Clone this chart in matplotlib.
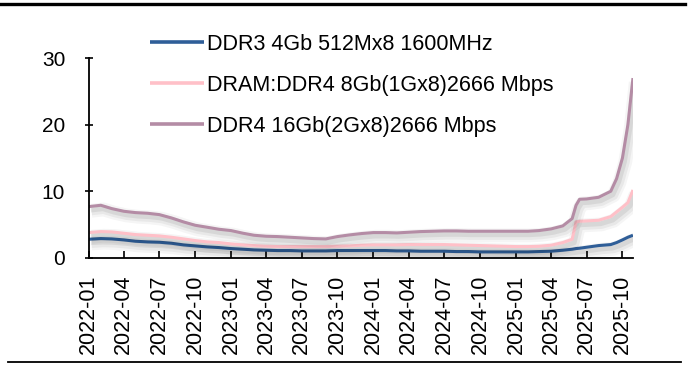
import matplotlib
matplotlib.use("Agg")
import matplotlib.pyplot as plt
import matplotlib.dates as mdates
import matplotlib.patheffects as pe
import pandas as pd

plt.rcParams['font.family'] = ['Liberation Sans', 'DejaVu Sans']

# monthly spot prices (USD), denser points around the 2025 spike
dates = ['2022-01-01', '2022-02-01', '2022-03-01', '2022-04-01', '2022-05-01', '2022-06-01',
         '2022-07-01', '2022-08-01', '2022-09-01', '2022-10-01', '2022-11-01', '2022-12-01',
         '2023-01-01', '2023-02-01', '2023-03-01', '2023-04-01', '2023-05-01', '2023-06-01',
         '2023-07-01', '2023-08-01', '2023-09-01', '2023-10-01', '2023-11-01', '2023-12-01',
         '2024-01-01', '2024-02-01', '2024-03-01', '2024-04-01', '2024-05-01', '2024-06-01',
         '2024-07-01', '2024-08-01', '2024-09-01', '2024-10-01', '2024-11-01', '2024-12-01',
         '2025-01-01', '2025-02-01', '2025-03-01', '2025-04-01', '2025-05-01',
         '2025-05-25', '2025-06-04', '2025-06-13', '2025-07-01', '2025-08-01', '2025-09-01',
         '2025-09-16', '2025-10-01', '2025-10-15', '2025-10-28']

ddr3_4gb = [2.8, 2.9, 2.85, 2.7, 2.5, 2.4, 2.35, 2.2, 1.95, 1.8, 1.65, 1.55,
            1.4, 1.3, 1.2, 1.15, 1.1, 1.1, 1.05, 1.05, 1.05, 1.1, 1.1, 1.1,
            1.1, 1.1, 1.05, 1.05, 1.0, 1.0, 1.0, 0.95, 0.95, 0.9, 0.9, 0.9,
            0.9, 0.9, 0.95, 1.0, 1.15,
            1.3, 1.4, 1.45, 1.6, 1.85, 2.0, 2.3, 2.7, 3.1, 3.4]

ddr4_8gb = [3.8, 3.95, 3.9, 3.7, 3.5, 3.4, 3.3, 3.1, 2.85, 2.6, 2.4, 2.3,
            2.1, 1.95, 1.85, 1.75, 1.7, 1.7, 1.7, 1.7, 1.7, 1.75, 1.8, 1.9,
            1.95, 1.95, 1.95, 2.0, 2.0, 2.0, 2.0, 1.95, 1.9, 1.85, 1.8, 1.75,
            1.7, 1.7, 1.75, 1.9, 2.3,
            2.8, 5.4, 5.5, 5.55, 5.65, 6.2, 6.9, 7.6, 8.3, 10.2]

ddr4_16gb = [7.7, 7.9, 7.4, 7.0, 6.8, 6.7, 6.5, 6.0, 5.4, 4.9, 4.6, 4.3,
             4.1, 3.7, 3.4, 3.25, 3.2, 3.1, 3.0, 2.9, 2.85, 3.2, 3.45, 3.65,
             3.8, 3.8, 3.75, 3.85, 3.95, 4.0, 4.05, 4.05, 4.0, 4.0, 4.0, 4.0,
             4.0, 4.0, 4.1, 4.35, 4.8,
             5.9, 7.9, 8.8, 8.85, 9.1, 10.0, 11.9, 15.0, 20.0, 27.0]

labels = ['DDR3 4Gb 512Mx8 1600MHz',
          'DRAM:DDR4 8Gb(1Gx8)2666 Mbps',
          'DDR4 16Gb(2Gx8)2666 Mbps']
colors = ['#2F5E98', '#FFC0C8', '#B48CA5']

x = pd.to_datetime(dates)

fig = plt.figure(figsize=(6.88, 3.70), dpi=100)
ax = fig.add_axes([0.129, 0.303, 0.791, 0.54])

# soft drop shadow under each line
shadow = [pe.SimpleLineShadow(offset=(2, -3), shadow_color='k', alpha=0.04, linewidth=10),
          pe.SimpleLineShadow(offset=(2, -3), shadow_color='k', alpha=0.05, linewidth=6.5),
          pe.SimpleLineShadow(offset=(1.5, -2.5), shadow_color='k', alpha=0.07, linewidth=3.5),
          pe.Normal()]

for y, c, lab in zip([ddr3_4gb, ddr4_8gb, ddr4_16gb], colors, labels):
    ax.plot(x, y, color=c, lw=2.2, label=lab, path_effects=shadow,
            solid_capstyle='butt')

ax.set_ylim(0, 30)
ax.set_yticks([0, 10, 20, 30])
ax.set_xlim(x[0], x[-1])
ax.xaxis.set_major_locator(mdates.MonthLocator(bymonth=[1, 4, 7, 10]))
ax.xaxis.set_major_formatter(mdates.DateFormatter('%Y-%m'))

for s in ['top', 'right']:
    ax.spines[s].set_visible(False)
for s in ['left', 'bottom']:
    ax.spines[s].set_linewidth(1.3)

ax.tick_params(axis='y', direction='inout', length=6, width=1.2, pad=14, labelsize=15)
ax.tick_params(axis='x', direction='in', length=5, width=1.2, pad=12, labelsize=15.5,
               labelrotation=90)

leg = ax.legend(loc='upper left', bbox_to_anchor=(150 / 688, 1 - 34 / 370),
                bbox_transform=fig.transFigure, frameon=False, fontsize=15.5,
                handlelength=2.5, handletextpad=0.15, labelspacing=0.92,
                borderpad=0, borderaxespad=0)
for h in leg.get_lines():
    h.set_path_effects([])
    h.set_linewidth(2.6)

# rules above and below the chart
fig.add_artist(plt.Line2D([0.0, 0.995], [0.988, 0.988], color='k', lw=2.4,
                          transform=fig.transFigure))
fig.add_artist(plt.Line2D([0.012, 0.99], [0.022, 0.022], color='k', lw=1.3,
                          transform=fig.transFigure))

fig.savefig('out.png', dpi=100)
